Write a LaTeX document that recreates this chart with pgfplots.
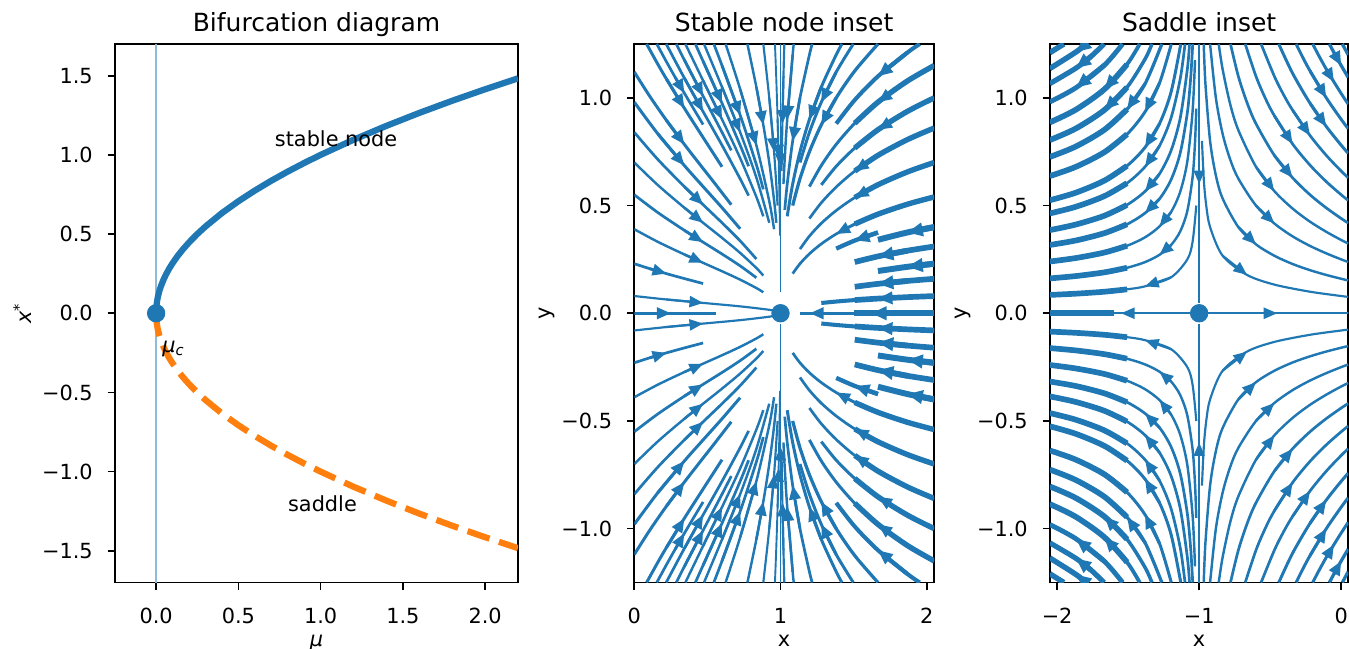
\documentclass[border=0pt]{standalone}
\usepackage{fontspec}
\setmainfont{DejaVu Sans}
\usepackage{pgfplots}
\pgfplotsset{compat=1.18}
\usetikzlibrary{arrows.meta}

\definecolor{c0}{RGB}{31,119,180}
\definecolor{c1}{RGB}{255,127,14}

\pgfplotsset{
  ln/.style={c0, line width=1.3*#1, smooth, line join=round},
  ar/.style={c0, line width=1.3*#1, -{Triangle[length=6pt 0.5, width=4.8pt 0.5]}},
  mplaxis/.style={
    scale only axis, anchor=center,
    axis line style={line width=0.8pt},
    tick align=outside, major tick length=3.5pt,
    every tick/.style={black, line width=0.8pt},
    xtick pos=bottom, ytick pos=left,
    xticklabel style={anchor=base, yshift=-16pt, inner sep=0pt},
    yticklabel style={anchor=east, xshift=-7pt, inner sep=0pt},
    xlabel style={at={([yshift=-30.5pt]axis description cs:0.5,0)}, anchor=base, inner sep=0pt},
    ylabel style={at={([xshift=-40pt]axis description cs:0,0.5)}, anchor=base, inner sep=0pt},
    title style={at={(axis description cs:0.5,1)}, anchor=base, inner sep=0pt,
      font=\fontsize{12}{14.4}\selectfont},
  },
}
% one streamline: width, points in flow order, two points where its arrow sits
\newcommand{\strm}[3]{\addplot[ln=#1] coordinates {#2}; \addplot[ar=#1] coordinates {#3};}
% thicker outer piece of a streamline
\newcommand{\ovl}[2]{\addplot[ln=#1] coordinates {#2};}

\begin{document}
\begin{tikzpicture}
\path[use as bounding box] (0,0) rectangle (647.52pt,311.04pt);

% ---- bifurcation diagram
\begin{axis}[mplaxis, at={(151.92pt,160.68pt)}, width=193.44pt, height=258.48pt,
    xmin=-0.25, xmax=2.2, ymin=-1.7, ymax=1.7,
    xtick={0,0.5,1,1.5,2}, xticklabels={0.0,0.5,1.0,1.5,2.0},
    ytick={-1.5,-1,-0.5,0,0.5,1,1.5},
    yticklabels={−1.5,−1.0,−0.5,0.0,0.5,1.0,1.5},
    title={Bifurcation diagram},
    xlabel={\textit{μ}}, ylabel={\textit{x}\textsuperscript{*}}]
  \addplot[c0!50, line width=1pt] coordinates {(0,-1.7) (0,1.7)};
  \addplot[c0, line width=3pt, line join=round] coordinates {
    (0,0) (0.001,0.0316) (0.003,0.0548) (0.006,0.0775) (0.01,0.1) (0.02,0.1414)
    (0.03,0.1732) (0.045,0.2121) (0.06,0.2449) (0.08,0.2828) (0.1,0.3162) (0.13,0.3606)
    (0.16,0.4) (0.2,0.4472) (0.25,0.5) (0.3,0.5477) (0.4,0.6325) (0.5,0.7071) (0.6,0.7746)
    (0.7,0.8367) (0.8,0.8944) (0.9,0.9487) (1.0,1.0) (1.2,1.0954) (1.4,1.1832) (1.6,1.2649)
    (1.8,1.3416) (2.0,1.4142) (2.2,1.4832)};
  \addplot[c1, line width=3pt, dash pattern=on 11.1pt off 4.8pt] coordinates {
    (0,0) (0.001,-0.0316) (0.003,-0.0548) (0.006,-0.0775) (0.01,-0.1) (0.02,-0.1414)
    (0.03,-0.1732) (0.045,-0.2121) (0.06,-0.2449) (0.08,-0.2828) (0.1,-0.3162) (0.13,-0.3606)
    (0.16,-0.4) (0.2,-0.4472) (0.25,-0.5) (0.3,-0.5477) (0.4,-0.6325) (0.5,-0.7071) (0.6,-0.7746)
    (0.7,-0.8367) (0.8,-0.8944) (0.9,-0.9487) (1.0,-1.0) (1.2,-1.0954) (1.4,-1.1832) (1.6,-1.2649)
    (1.8,-1.3416) (2.0,-1.4142) (2.2,-1.4832)};
  \addplot[c0, only marks, mark=*, mark size=4.2pt, mark options={draw=c0, fill=c0}] coordinates {(0,0)};
  \node[anchor=base west, inner sep=0pt] at (axis cs:0.72,1.05) {stable node};
  \node[anchor=base west, inner sep=0pt] at (axis cs:0.8,-1.25) {saddle};
  \node[anchor=base west, inner sep=0pt] at (axis cs:0.035,-0.245) {\textit{μ}\textsubscript{\textit{c}}};
\end{axis}

% ---- stable node inset
\begin{axis}[mplaxis, at={(376.39pt,160.68pt)}, width=143.86pt, height=258.48pt,
    xmin=0, xmax=2.05, ymin=-1.25, ymax=1.25,
    xtick={0,1,2}, xticklabels={0,1,2},
    ytick={-1,-0.5,0,0.5,1}, yticklabels={−1.0,−0.5,0.0,0.5,1.0},
    title={Stable node inset}, xlabel={x}, ylabel={y}]
  % upper half, left of the node
  \strm{0.8pt}{(0,0.08) (0.2195,0.064) (0.4706,0.048) (0.7241,0.032) (0.9231,0.016) (0.9802,0.008) (0.9968,0.0032)}{(0.2195,0.064) (0.4706,0.048)}
  \strm{1.0pt}{(0,0.23) (0.105,0.207) (0.2195,0.184) (0.3423,0.161) (0.4706,0.138)}{(0.105,0.207) (0.2195,0.184)}
  \strm{0.9pt}{(0,0.39) (0.1611,0.3315) (0.3423,0.273) (0.4706,0.234) (0.6,0.195) (0.7241,0.156) (0.8349,0.117) (0.8824,0.0975)}{(0.3423,0.273) (0.4706,0.234)}
  \strm{1.0pt}{(0,0.55) (0.1611,0.4675) (0.3423,0.385) (0.4706,0.33) (0.6,0.275) (0.7241,0.22) (0.8349,0.165)}{(0.3423,0.385) (0.4706,0.33)}
  \strm{0.9pt}{(0,0.7) (0.1611,0.595) (0.3423,0.49) (0.4706,0.42) (0.6,0.35) (0.7241,0.28) (0.8349,0.21) (0.8824,0.175)}{(0.3423,0.49) (0.4706,0.42)}
  \strm{1.0pt}{(0,0.84) (0.1611,0.714) (0.3423,0.588) (0.4706,0.504) (0.6,0.42) (0.7241,0.336) (0.8349,0.252)}{(0.3423,0.588) (0.4706,0.504)}
  \strm{1.1pt}{(0,0.98) (0.1611,0.833) (0.3423,0.686) (0.4706,0.588) (0.6,0.49) (0.7241,0.392)}{(0.1611,0.833) (0.3423,0.686)}
  \strm{1.1pt}{(0,1.12) (0.105,1.008) (0.2195,0.896) (0.3423,0.784) (0.4706,0.672) (0.5355,0.616) (0.6632,0.504)}{(0.2195,0.896) (0.3423,0.784)}
  \strm{1.1pt}{(0.0843,1.25) (0.1611,1.156) (0.2195,1.088) (0.3423,0.952) (0.4706,0.816) (0.6,0.68)}{(0.2195,1.088) (0.3423,0.952)}
  \strm{1.0pt}{(0.1538,1.25) (0.2195,1.168) (0.28,1.095) (0.3423,1.022) (0.406,0.949) (0.4706,0.876)}{(0.28,1.095) (0.3423,1.022)}
  \strm{1.0pt}{(0.2183,1.25) (0.3423,1.092) (0.4706,0.936) (0.6,0.78) (0.7241,0.624) (0.7817,0.546)}{(0.3423,1.092) (0.4706,0.936)}
  \strm{1.0pt}{(0.2873,1.25) (0.3423,1.176) (0.4706,1.008) (0.6,0.84) (0.6632,0.756)}{(0.3423,1.176) (0.4706,1.008)}
  \strm{0.9pt}{(0.3493,1.25) (0.4706,1.08) (0.6,0.9) (0.7241,0.72) (0.8349,0.54) (0.8824,0.45)}{(0.4706,1.08) (0.6,0.9)}
  \strm{1.0pt}{(0.4175,1.25) (0.4706,1.17) (0.6,0.975) (0.7241,0.78) (0.7817,0.6825)}{(0.4706,1.17) (0.6,0.975)}
  \strm{0.9pt}{(0.4768,1.25) (0.6,1.05) (0.7241,0.84) (0.8349,0.63) (0.9231,0.42)}{(0.6,1.05) (0.7241,0.84)}
  \strm{1.0pt}{(0.5439,1.25) (0.6,1.15) (0.7241,0.92) (0.8349,0.69) (0.8824,0.575)}{(0.6,1.15) (0.7241,0.92)}
  \strm{0.9pt}{(0.6246,1.25) (0.7241,1.04) (0.8349,0.78) (0.9231,0.52) (0.956,0.39)}{(0.7241,1.04) (0.8349,0.78)}
  \strm{0.9pt}{(0.7737,1.25) (0.8349,1.05) (0.8824,0.875) (0.9231,0.7) (0.956,0.525) (0.9716,0.42)}{(0.8349,1.05) (0.8824,0.875)}
  \strm{0.8pt}{(0.8824,1.25) (0.9231,1.0) (0.956,0.75) (0.9802,0.5)}{(0.9231,1.0) (0.956,0.75)}
  \strm{0.7pt}{(0.9621,1.25) (0.9716,1.08) (0.9802,0.9) (0.9873,0.72) (0.9928,0.54) (0.9968,0.36)}{(0.9802,0.9) (0.9873,0.72)}
  \strm{0.7pt}{(1,1.25) (1,0.1)}{(1,0.9) (1,0.68)}
  % upper half, right of the node
  \strm{1.5pt}{(2.0514,0.0798) (1.8674,0.0748) (1.6667,0.068) (1.5078,0.0612) (1.381,0.0544) (1.2792,0.0476)}{(1.8674,0.0748) (1.6667,0.068)}
  \ovl{2.1pt}{(2.0514,0.0798) (1.8674,0.0748) (1.6667,0.068) (1.5078,0.0612)}
  \strm{2.1pt}{(2.0514,0.16) (1.8674,0.15) (1.6667,0.1365) (1.5078,0.1229)}{(1.8674,0.15) (1.6667,0.1365)}
  \strm{2.2pt}{(2.0514,0.23) (1.8674,0.2156) (1.6667,0.196)}{(2.0514,0.23) (1.8674,0.2156)}
  \strm{2.1pt}{(2.0514,0.31) (1.8674,0.2904) (1.6667,0.264) (1.5078,0.2376)}{(1.8674,0.2904) (1.6667,0.264)}
  \strm{2.2pt}{(2.0514,0.4) (1.8674,0.375) (1.6667,0.341)}{(2.0514,0.4) (1.8674,0.375)}
  \strm{1.6pt}{(1.6667,0.375) (1.5078,0.3375) (1.381,0.3)}{(1.6667,0.375) (1.5078,0.3375)}
  \strm{1.0pt}{(2.0514,0.54) (1.8674,0.506) (1.6667,0.46) (1.5078,0.414) (1.381,0.368) (1.2792,0.322) (1.1978,0.276) (1.1333,0.23) (1.0833,0.184)}{(1.5078,0.414) (1.381,0.368)}
  \ovl{2.0pt}{(2.0514,0.54) (1.8674,0.506) (1.6667,0.46) (1.5078,0.414)}
  \strm{1.0pt}{(2.0514,0.7) (1.8674,0.656) (1.6667,0.5965) (1.5078,0.537) (1.381,0.477) (1.2792,0.4176) (1.1978,0.358) (1.1333,0.298)}{(1.6667,0.5965) (1.5078,0.537)}
  \ovl{2.0pt}{(2.0514,0.7) (1.8674,0.656) (1.6667,0.5965) (1.5078,0.537)}
  \strm{1.0pt}{(2.0514,0.86) (1.8674,0.806) (1.6667,0.733) (1.5078,0.66) (1.381,0.586) (1.2792,0.513) (1.1978,0.44)}{(1.6667,0.733) (1.5078,0.66)}
  \ovl{2.0pt}{(2.0514,0.86) (1.8674,0.806) (1.6667,0.733) (1.5078,0.66)}
  \strm{1.1pt}{(2.0514,1.0) (1.8674,0.937) (1.6667,0.852) (1.5078,0.767) (1.381,0.682) (1.2792,0.596)}{(1.8674,0.937) (1.6667,0.852)}
  \ovl{2.0pt}{(2.0514,1.0) (1.8674,0.937) (1.6667,0.852) (1.5078,0.767)}
  \strm{1.1pt}{(2.0514,1.15) (1.8674,1.078) (1.6667,0.98) (1.5078,0.882) (1.381,0.784) (1.2792,0.686) (1.1978,0.588)}{(1.8674,1.078) (1.6667,0.98)}
  \ovl{2.0pt}{(2.0514,1.15) (1.8674,1.078) (1.6667,0.98) (1.5078,0.882)}
  \strm{1.5pt}{(1.9525,1.25) (1.8674,1.21) (1.6667,1.1) (1.5078,0.99) (1.381,0.88)}{(1.8674,1.21) (1.6667,1.1)}
  \strm{1.2pt}{(1.6667,1.25) (1.5078,1.125) (1.381,1.0) (1.2792,0.875) (1.1978,0.75) (1.1333,0.625) (1.0833,0.5)}{(1.381,1.0) (1.2792,0.875)}
  \strm{1.1pt}{(1.4978,1.25) (1.381,1.12) (1.2792,0.98) (1.1978,0.84) (1.1333,0.7)}{(1.381,1.12) (1.2792,0.98)}
  \strm{1.1pt}{(1.4202,1.25) (1.381,1.2) (1.2792,1.05) (1.1978,0.9) (1.1333,0.75) (1.0833,0.6) (1.046,0.45)}{(1.2792,1.05) (1.1978,0.9)}
  \strm{1.0pt}{(1.2165,1.25) (1.1978,1.2) (1.1333,1.0) (1.0833,0.8) (1.046,0.6) (1.0292,0.48)}{(1.1333,1.0) (1.0833,0.8)}
  \strm{0.9pt}{(1.0907,1.25) (1.0833,1.2) (1.046,0.9) (1.0292,0.72) (1.0202,0.6)}{(1.0833,1.2) (1.046,0.9)}
  \strm{0.8pt}{(1.0261,1.25) (1.0202,1.1) (1.0129,0.88) (1.0072,0.66)}{(1.0202,1.1) (1.0129,0.88)}
  % lower half, left of the node
  \strm{0.8pt}{(0,-0.08) (0.2195,-0.064) (0.4706,-0.048) (0.7241,-0.032) (0.9231,-0.016) (0.9802,-0.008) (0.9968,-0.0032)}{(0.2195,-0.064) (0.4706,-0.048)}
  \strm{1.0pt}{(0,-0.23) (0.105,-0.207) (0.2195,-0.184) (0.3423,-0.161) (0.4706,-0.138)}{(0.105,-0.207) (0.2195,-0.184)}
  \strm{0.9pt}{(0,-0.39) (0.1611,-0.3315) (0.3423,-0.273) (0.4706,-0.234) (0.6,-0.195) (0.7241,-0.156) (0.8349,-0.117) (0.8824,-0.0975)}{(0.3423,-0.273) (0.4706,-0.234)}
  \strm{1.0pt}{(0,-0.55) (0.1611,-0.4675) (0.3423,-0.385) (0.4706,-0.33) (0.6,-0.275) (0.7241,-0.22) (0.8349,-0.165)}{(0.3423,-0.385) (0.4706,-0.33)}
  \strm{0.9pt}{(0,-0.7) (0.1611,-0.595) (0.3423,-0.49) (0.4706,-0.42) (0.6,-0.35) (0.7241,-0.28) (0.8349,-0.21) (0.8824,-0.175)}{(0.3423,-0.49) (0.4706,-0.42)}
  \strm{1.0pt}{(0,-0.84) (0.1611,-0.714) (0.3423,-0.588) (0.4706,-0.504) (0.6,-0.42) (0.7241,-0.336) (0.8349,-0.252)}{(0.3423,-0.588) (0.4706,-0.504)}
  \strm{1.1pt}{(0,-0.98) (0.1611,-0.833) (0.3423,-0.686) (0.4706,-0.588) (0.6,-0.49) (0.7241,-0.392)}{(0.1611,-0.833) (0.3423,-0.686)}
  \strm{1.1pt}{(0,-1.12) (0.105,-1.008) (0.2195,-0.896) (0.3423,-0.784) (0.4706,-0.672) (0.5355,-0.616) (0.6632,-0.504)}{(0.2195,-0.896) (0.3423,-0.784)}
  \strm{1.1pt}{(0.0843,-1.25) (0.1611,-1.156) (0.2195,-1.088) (0.3423,-0.952) (0.4706,-0.816) (0.6,-0.68)}{(0.2195,-1.088) (0.3423,-0.952)}
  \strm{1.0pt}{(0.1538,-1.25) (0.2195,-1.168) (0.28,-1.095) (0.3423,-1.022) (0.406,-0.949) (0.4706,-0.876)}{(0.28,-1.095) (0.3423,-1.022)}
  \strm{1.0pt}{(0.2183,-1.25) (0.3423,-1.092) (0.4706,-0.936) (0.6,-0.78) (0.7241,-0.624) (0.7817,-0.546)}{(0.3423,-1.092) (0.4706,-0.936)}
  \strm{1.0pt}{(0.2873,-1.25) (0.3423,-1.176) (0.4706,-1.008) (0.6,-0.84) (0.6632,-0.756)}{(0.3423,-1.176) (0.4706,-1.008)}
  \strm{0.9pt}{(0.3493,-1.25) (0.4706,-1.08) (0.6,-0.9) (0.7241,-0.72) (0.8349,-0.54) (0.8824,-0.45)}{(0.4706,-1.08) (0.6,-0.9)}
  \strm{1.0pt}{(0.4175,-1.25) (0.4706,-1.17) (0.6,-0.975) (0.7241,-0.78) (0.7817,-0.6825)}{(0.4706,-1.17) (0.6,-0.975)}
  \strm{0.9pt}{(0.4768,-1.25) (0.6,-1.05) (0.7241,-0.84) (0.8349,-0.63) (0.9231,-0.42)}{(0.6,-1.05) (0.7241,-0.84)}
  \strm{1.0pt}{(0.5439,-1.25) (0.6,-1.15) (0.7241,-0.92) (0.8349,-0.69) (0.8824,-0.575)}{(0.6,-1.15) (0.7241,-0.92)}
  \strm{0.9pt}{(0.6246,-1.25) (0.7241,-1.04) (0.8349,-0.78) (0.9231,-0.52) (0.956,-0.39)}{(0.7241,-1.04) (0.8349,-0.78)}
  \strm{0.9pt}{(0.7737,-1.25) (0.8349,-1.05) (0.8824,-0.875) (0.9231,-0.7) (0.956,-0.525) (0.9716,-0.42)}{(0.8349,-1.05) (0.8824,-0.875)}
  \strm{0.8pt}{(0.8824,-1.25) (0.9231,-1.0) (0.956,-0.75) (0.9802,-0.5)}{(0.9231,-1.0) (0.956,-0.75)}
  \strm{0.7pt}{(0.9621,-1.25) (0.9716,-1.08) (0.9802,-0.9) (0.9873,-0.72) (0.9928,-0.54) (0.9968,-0.36)}{(0.9802,-0.9) (0.9873,-0.72)}
  \strm{0.7pt}{(1,-1.25) (1,-0.05)}{(1,-0.9) (1,-0.62)}
  % lower half, right of the node
  \strm{1.5pt}{(2.0514,-0.0798) (1.8674,-0.0748) (1.6667,-0.068) (1.5078,-0.0612) (1.381,-0.0544) (1.2792,-0.0476)}{(1.8674,-0.0748) (1.6667,-0.068)}
  \ovl{2.1pt}{(2.0514,-0.0798) (1.8674,-0.0748) (1.6667,-0.068) (1.5078,-0.0612)}
  \strm{2.1pt}{(2.0514,-0.16) (1.8674,-0.15) (1.6667,-0.1365) (1.5078,-0.1229)}{(1.8674,-0.15) (1.6667,-0.1365)}
  \strm{2.2pt}{(2.0514,-0.23) (1.8674,-0.2156) (1.6667,-0.196)}{(2.0514,-0.23) (1.8674,-0.2156)}
  \strm{2.1pt}{(2.0514,-0.31) (1.8674,-0.2904) (1.6667,-0.264) (1.5078,-0.2376)}{(1.8674,-0.2904) (1.6667,-0.264)}
  \strm{2.2pt}{(2.0514,-0.4) (1.8674,-0.375) (1.6667,-0.341)}{(2.0514,-0.4) (1.8674,-0.375)}
  \strm{1.6pt}{(1.6667,-0.375) (1.5078,-0.3375) (1.381,-0.3)}{(1.6667,-0.375) (1.5078,-0.3375)}
  \strm{1.0pt}{(2.0514,-0.54) (1.8674,-0.506) (1.6667,-0.46) (1.5078,-0.414) (1.381,-0.368) (1.2792,-0.322) (1.1978,-0.276) (1.1333,-0.23) (1.0833,-0.184)}{(1.5078,-0.414) (1.381,-0.368)}
  \ovl{2.0pt}{(2.0514,-0.54) (1.8674,-0.506) (1.6667,-0.46) (1.5078,-0.414)}
  \strm{1.0pt}{(2.0514,-0.7) (1.8674,-0.656) (1.6667,-0.5965) (1.5078,-0.537) (1.381,-0.477) (1.2792,-0.4176) (1.1978,-0.358) (1.1333,-0.298)}{(1.6667,-0.5965) (1.5078,-0.537)}
  \ovl{2.0pt}{(2.0514,-0.7) (1.8674,-0.656) (1.6667,-0.5965) (1.5078,-0.537)}
  \strm{1.0pt}{(2.0514,-0.86) (1.8674,-0.806) (1.6667,-0.733) (1.5078,-0.66) (1.381,-0.586) (1.2792,-0.513) (1.1978,-0.44)}{(1.6667,-0.733) (1.5078,-0.66)}
  \ovl{2.0pt}{(2.0514,-0.86) (1.8674,-0.806) (1.6667,-0.733) (1.5078,-0.66)}
  \strm{1.1pt}{(2.0514,-1.0) (1.8674,-0.937) (1.6667,-0.852) (1.5078,-0.767) (1.381,-0.682) (1.2792,-0.596)}{(1.8674,-0.937) (1.6667,-0.852)}
  \ovl{2.0pt}{(2.0514,-1.0) (1.8674,-0.937) (1.6667,-0.852) (1.5078,-0.767)}
  \strm{1.1pt}{(2.0514,-1.15) (1.8674,-1.078) (1.6667,-0.98) (1.5078,-0.882) (1.381,-0.784) (1.2792,-0.686) (1.1978,-0.588)}{(1.8674,-1.078) (1.6667,-0.98)}
  \ovl{2.0pt}{(2.0514,-1.15) (1.8674,-1.078) (1.6667,-0.98) (1.5078,-0.882)}
  \strm{1.5pt}{(1.9525,-1.25) (1.8674,-1.21) (1.6667,-1.1) (1.5078,-0.99) (1.381,-0.88)}{(1.8674,-1.21) (1.6667,-1.1)}
  \strm{1.2pt}{(1.6667,-1.25) (1.5078,-1.125) (1.381,-1.0) (1.2792,-0.875) (1.1978,-0.75) (1.1333,-0.625) (1.0833,-0.5)}{(1.381,-1.0) (1.2792,-0.875)}
  \strm{1.1pt}{(1.4978,-1.25) (1.381,-1.12) (1.2792,-0.98) (1.1978,-0.84) (1.1333,-0.7)}{(1.381,-1.12) (1.2792,-0.98)}
  \strm{1.1pt}{(1.4202,-1.25) (1.381,-1.2) (1.2792,-1.05) (1.1978,-0.9) (1.1333,-0.75) (1.0833,-0.6) (1.046,-0.45)}{(1.2792,-1.05) (1.1978,-0.9)}
  \strm{1.0pt}{(1.2165,-1.25) (1.1978,-1.2) (1.1333,-1.0) (1.0833,-0.8) (1.046,-0.6) (1.0292,-0.48)}{(1.1333,-1.0) (1.0833,-0.8)}
  \strm{0.9pt}{(1.0907,-1.25) (1.0833,-1.2) (1.046,-0.9) (1.0292,-0.72) (1.0202,-0.6)}{(1.0833,-1.2) (1.046,-0.9)}
  \strm{0.8pt}{(1.0261,-1.25) (1.0202,-1.1) (1.0129,-0.88) (1.0072,-0.66)}{(1.0202,-1.1) (1.0129,-0.88)}
  % the line y = 0
  \strm{1.0pt}{(0,0) (0.56,0)}{(0.1,0) (0.25,0)}
  \strm{1.1pt}{(2.0514,0) (1.13,0)}{(1.3,0) (1.2,0)}
  \ovl{2.2pt}{(2.0514,0) (1.5,0)}
  \addplot[ar=2.2pt] coordinates {(1.8,0) (1.62,0)};
  \addplot[c0, only marks, mark=*, mark size=4.2pt, mark options={draw=c0, fill=c0}] coordinates {(1,0)};
\end{axis}

% ---- saddle inset
\begin{axis}[mplaxis, at={(575.59pt,160.68pt)}, width=143.18pt, height=258.48pt,
    xmin=-2.05, xmax=0.05, ymin=-1.25, ymax=1.25,
    xtick={-2,-1,0}, xticklabels={−2,−1,0},
    ytick={-1,-0.5,0,0.5,1}, yticklabels={−1.0,−0.5,0.0,0.5,1.0},
    title={Saddle inset}, xlabel={x}, ylabel={y}]
  % upper half, left of the saddle
  \strm{0.8pt}{(-1.0202,0.5) (-1.046,0.333) (-1.0833,0.25) (-1.1978,0.1667) (-1.381,0.125) (-1.5078,0.1111) (-1.6667,0.1) (-1.8674,0.0909) (-2.0514,0.0852)}{(-1.1978,0.1667) (-1.381,0.125)}
  \ovl{2.1pt}{(-1.5078,0.1111) (-1.6667,0.1) (-1.8674,0.0909) (-2.0514,0.0852)}
  \strm{0.9pt}{(-1.0202,0.95) (-1.0292,0.792) (-1.046,0.633) (-1.0833,0.475) (-1.1333,0.38) (-1.1978,0.3167) (-1.2792,0.2714) (-1.381,0.2375) (-1.5078,0.2111) (-1.6667,0.19) (-1.8674,0.1727) (-2.0514,0.1618)}{(-1.1978,0.3167) (-1.2792,0.2714)}
  \ovl{2.1pt}{(-1.5078,0.2111) (-1.6667,0.19) (-1.8674,0.1727) (-2.0514,0.1618)}
  \strm{0.9pt}{(-1.0292,1.175) (-1.046,0.94) (-1.0833,0.705) (-1.1333,0.564) (-1.1978,0.47) (-1.2792,0.403) (-1.381,0.3525) (-1.5078,0.3133) (-1.6667,0.282) (-1.8674,0.2564) (-2.0514,0.2402)}{(-1.1978,0.47) (-1.2792,0.403)}
  \ovl{2.1pt}{(-1.5078,0.3133) (-1.6667,0.282) (-1.8674,0.2564) (-2.0514,0.2402)}
  \strm{1.0pt}{(-1.0453,1.25) (-1.0595,1.094) (-1.0833,0.93) (-1.1333,0.744) (-1.1978,0.62) (-1.2792,0.531) (-1.381,0.465) (-1.5078,0.413) (-1.6667,0.372) (-1.8674,0.338) (-2.0514,0.317)}{(-1.2792,0.531) (-1.381,0.465)}
  \ovl{2.1pt}{(-1.5078,0.413) (-1.6667,0.372) (-1.8674,0.338) (-2.0514,0.317)}
  \strm{1.0pt}{(-1.0679,1.25) (-1.0833,1.1325) (-1.1333,0.906) (-1.1978,0.755) (-1.2792,0.647) (-1.381,0.566) (-1.5078,0.503) (-1.6667,0.453) (-1.8674,0.412) (-2.0514,0.386)}{(-1.2792,0.647) (-1.381,0.566)}
  \ovl{2.1pt}{(-1.5078,0.503) (-1.6667,0.453) (-1.8674,0.412) (-2.0514,0.386)}
  \strm{1.0pt}{(-1.0994,1.25) (-1.1333,1.088) (-1.1978,0.907) (-1.2792,0.777) (-1.381,0.68) (-1.5078,0.604) (-1.6667,0.544) (-1.8674,0.4945) (-2.0514,0.4634)}{(-1.2792,0.777) (-1.381,0.68)}
  \ovl{2.1pt}{(-1.5078,0.604) (-1.6667,0.544) (-1.8674,0.4945) (-2.0514,0.4634)}
  \strm{1.1pt}{(-1.1293,1.25) (-1.1978,1.0267) (-1.2792,0.88) (-1.381,0.77) (-1.5078,0.6844) (-1.6667,0.616) (-1.8674,0.56) (-2.0514,0.5247)}{(-1.2792,0.88) (-1.381,0.77)}
  \ovl{2.1pt}{(-1.5078,0.6844) (-1.6667,0.616) (-1.8674,0.56) (-2.0514,0.5247)}
  \strm{1.1pt}{(-1.196,1.25) (-1.2792,1.0686) (-1.381,0.935) (-1.5078,0.831) (-1.6667,0.748) (-1.8674,0.68) (-2.0514,0.637)}{(-1.2792,1.0686) (-1.381,0.935)}
  \ovl{2.1pt}{(-1.5078,0.831) (-1.6667,0.748) (-1.8674,0.68) (-2.0514,0.637)}
  \strm{1.2pt}{(-1.2628,1.25) (-1.381,1.065) (-1.5078,0.9467) (-1.6667,0.852) (-1.8674,0.7745) (-2.0514,0.7257)}{(-1.381,1.065) (-1.5078,0.9467)}
  \ovl{2.1pt}{(-1.5078,0.9467) (-1.6667,0.852) (-1.8674,0.7745) (-2.0514,0.7257)}
  \strm{1.3pt}{(-1.3326,1.25) (-1.381,1.18) (-1.5078,1.049) (-1.6667,0.944) (-1.8674,0.858) (-2.0514,0.804)}{(-1.5078,1.049) (-1.6667,0.944)}
  \ovl{2.1pt}{(-1.5078,1.049) (-1.6667,0.944) (-1.8674,0.858) (-2.0514,0.804)}
  \strm{1.4pt}{(-1.4186,1.25) (-1.5078,1.1556) (-1.6667,1.04) (-1.8674,0.9455) (-2.0514,0.8859)}{(-1.5078,1.1556) (-1.6667,1.04)}
  \ovl{2.1pt}{(-1.5078,1.1556) (-1.6667,1.04) (-1.8674,0.9455) (-2.0514,0.8859)}
  \strm{1.8pt}{(-1.5392,1.25) (-1.6667,1.152) (-1.8674,1.047) (-2.0514,0.981)}{(-1.6667,1.152) (-1.8674,1.047)}
  \strm{1.9pt}{(-1.6699,1.25) (-1.761,1.1924) (-1.8674,1.138) (-2.0514,1.066)}{(-1.761,1.1924) (-1.8674,1.138)}
  \strm{2.0pt}{(-1.7962,1.25) (-1.8674,1.2127) (-2.0514,1.136)}{(-1.7962,1.25) (-1.8674,1.2127)}
  \ovl{2.0pt}{(-1.9525,1.25) (-2.0514,1.2095)}
  % upper half, right of the saddle
  \strm{0.8pt}{(-0.9802,0.8) (-0.9668,0.615) (-0.9501,0.5) (-0.9231,0.4) (-0.8349,0.267) (-0.6632,0.178) (-0.4706,0.133) (-0.2195,0.1) (0,0.08) (0.0488,0.0762)}{(-0.8349,0.267) (-0.6632,0.178)}
  \strm{0.9pt}{(-0.9678,1.25) (-0.956,1.067) (-0.9231,0.8) (-0.8824,0.64) (-0.8349,0.533) (-0.7241,0.4) (-0.6,0.32) (-0.4706,0.267) (-0.3423,0.2286) (-0.2195,0.2) (-0.105,0.1778) (0,0.16) (0.0488,0.1524)}{(-0.7241,0.4) (-0.6,0.32)}
  \strm{0.9pt}{(-0.9231,1.25) (-0.8824,1.0) (-0.8349,0.833) (-0.7817,0.714) (-0.7241,0.625) (-0.6,0.5) (-0.4706,0.4167) (-0.3423,0.357) (-0.2195,0.3125) (-0.105,0.278) (0,0.25) (0.0488,0.238)}{(-0.6,0.5) (-0.4706,0.4167)}
  \strm{0.9pt}{(-0.8622,1.25) (-0.8349,1.133) (-0.7817,0.971) (-0.7241,0.85) (-0.6,0.68) (-0.4706,0.567) (-0.3423,0.486) (-0.2195,0.425) (-0.105,0.378) (0,0.34) (0.0488,0.324)}{(-0.6,0.68) (-0.4706,0.567)}
  \strm{1.0pt}{(-0.7795,1.25) (-0.7241,1.1) (-0.6632,0.978) (-0.6,0.88) (-0.4706,0.733) (-0.3423,0.629) (-0.2195,0.55) (-0.105,0.489) (0,0.44) (0.0488,0.419)}{(-0.4706,0.733) (-0.3423,0.629)}
  \strm{1.0pt}{(-0.6756,1.25) (-0.6,1.1) (-0.5355,1.0) (-0.4706,0.917) (-0.3423,0.786) (-0.2195,0.6875) (-0.105,0.611) (0,0.55) (0.0488,0.524)}{(-0.4706,0.917) (-0.3423,0.786)}
  \strm{1.0pt}{(-0.564,1.25) (-0.4706,1.1) (-0.406,1.015) (-0.3423,0.943) (-0.2195,0.825) (-0.105,0.733) (0,0.66) (0.0488,0.629)}{(-0.3423,0.943) (-0.2195,0.825)}
  \strm{1.1pt}{(-0.4395,1.25) (-0.3423,1.114) (-0.2195,0.975) (-0.105,0.867) (0,0.78) (0.0488,0.743)}{(-0.2195,0.975) (-0.105,0.867)}
  \strm{1.1pt}{(-0.3172,1.25) (-0.28,1.2) (-0.2195,1.125) (-0.105,1.0) (0,0.9) (0.0488,0.857)}{(-0.2195,1.125) (-0.105,1.0)}
  \strm{1.1pt}{(-0.2006,1.25) (-0.1611,1.2) (-0.105,1.133) (-0.0512,1.074) (0,1.02) (0.0488,0.971)}{(-0.105,1.133) (-0.0512,1.074)}
  \strm{1.2pt}{(-0.0832,1.25) (-0.0512,1.2105) (0,1.15) (0.0488,1.095)}{(-0.0512,1.2105) (0,1.15)}
  \ovl{1.2pt}{(0.0079,1.25) (0.0488,1.2)}
  \strm{0.7pt}{(-1,1.25) (-1,0.05)}{(-1,0.8) (-1,0.6)}
  % lower half, left of the saddle
  \strm{0.8pt}{(-1.0202,-0.5) (-1.046,-0.333) (-1.0833,-0.25) (-1.1978,-0.1667) (-1.381,-0.125) (-1.5078,-0.1111) (-1.6667,-0.1) (-1.8674,-0.0909) (-2.0514,-0.0852)}{(-1.1978,-0.1667) (-1.381,-0.125)}
  \ovl{2.1pt}{(-1.5078,-0.1111) (-1.6667,-0.1) (-1.8674,-0.0909) (-2.0514,-0.0852)}
  \strm{0.9pt}{(-1.0202,-0.95) (-1.0292,-0.792) (-1.046,-0.633) (-1.0833,-0.475) (-1.1333,-0.38) (-1.1978,-0.3167) (-1.2792,-0.2714) (-1.381,-0.2375) (-1.5078,-0.2111) (-1.6667,-0.19) (-1.8674,-0.1727) (-2.0514,-0.1618)}{(-1.1978,-0.3167) (-1.2792,-0.2714)}
  \ovl{2.1pt}{(-1.5078,-0.2111) (-1.6667,-0.19) (-1.8674,-0.1727) (-2.0514,-0.1618)}
  \strm{0.9pt}{(-1.0292,-1.175) (-1.046,-0.94) (-1.0833,-0.705) (-1.1333,-0.564) (-1.1978,-0.47) (-1.2792,-0.403) (-1.381,-0.3525) (-1.5078,-0.3133) (-1.6667,-0.282) (-1.8674,-0.2564) (-2.0514,-0.2402)}{(-1.1978,-0.47) (-1.2792,-0.403)}
  \ovl{2.1pt}{(-1.5078,-0.3133) (-1.6667,-0.282) (-1.8674,-0.2564) (-2.0514,-0.2402)}
  \strm{1.0pt}{(-1.0453,-1.25) (-1.0595,-1.094) (-1.0833,-0.93) (-1.1333,-0.744) (-1.1978,-0.62) (-1.2792,-0.531) (-1.381,-0.465) (-1.5078,-0.413) (-1.6667,-0.372) (-1.8674,-0.338) (-2.0514,-0.317)}{(-1.2792,-0.531) (-1.381,-0.465)}
  \ovl{2.1pt}{(-1.5078,-0.413) (-1.6667,-0.372) (-1.8674,-0.338) (-2.0514,-0.317)}
  \strm{1.0pt}{(-1.0679,-1.25) (-1.0833,-1.1325) (-1.1333,-0.906) (-1.1978,-0.755) (-1.2792,-0.647) (-1.381,-0.566) (-1.5078,-0.503) (-1.6667,-0.453) (-1.8674,-0.412) (-2.0514,-0.386)}{(-1.2792,-0.647) (-1.381,-0.566)}
  \ovl{2.1pt}{(-1.5078,-0.503) (-1.6667,-0.453) (-1.8674,-0.412) (-2.0514,-0.386)}
  \strm{1.0pt}{(-1.0994,-1.25) (-1.1333,-1.088) (-1.1978,-0.907) (-1.2792,-0.777) (-1.381,-0.68) (-1.5078,-0.604) (-1.6667,-0.544) (-1.8674,-0.4945) (-2.0514,-0.4634)}{(-1.2792,-0.777) (-1.381,-0.68)}
  \ovl{2.1pt}{(-1.5078,-0.604) (-1.6667,-0.544) (-1.8674,-0.4945) (-2.0514,-0.4634)}
  \strm{1.1pt}{(-1.1293,-1.25) (-1.1978,-1.0267) (-1.2792,-0.88) (-1.381,-0.77) (-1.5078,-0.6844) (-1.6667,-0.616) (-1.8674,-0.56) (-2.0514,-0.5247)}{(-1.2792,-0.88) (-1.381,-0.77)}
  \ovl{2.1pt}{(-1.5078,-0.6844) (-1.6667,-0.616) (-1.8674,-0.56) (-2.0514,-0.5247)}
  \strm{1.1pt}{(-1.196,-1.25) (-1.2792,-1.0686) (-1.381,-0.935) (-1.5078,-0.831) (-1.6667,-0.748) (-1.8674,-0.68) (-2.0514,-0.637)}{(-1.2792,-1.0686) (-1.381,-0.935)}
  \ovl{2.1pt}{(-1.5078,-0.831) (-1.6667,-0.748) (-1.8674,-0.68) (-2.0514,-0.637)}
  \strm{1.2pt}{(-1.2628,-1.25) (-1.381,-1.065) (-1.5078,-0.9467) (-1.6667,-0.852) (-1.8674,-0.7745) (-2.0514,-0.7257)}{(-1.381,-1.065) (-1.5078,-0.9467)}
  \ovl{2.1pt}{(-1.5078,-0.9467) (-1.6667,-0.852) (-1.8674,-0.7745) (-2.0514,-0.7257)}
  \strm{1.3pt}{(-1.3326,-1.25) (-1.381,-1.18) (-1.5078,-1.049) (-1.6667,-0.944) (-1.8674,-0.858) (-2.0514,-0.804)}{(-1.5078,-1.049) (-1.6667,-0.944)}
  \ovl{2.1pt}{(-1.5078,-1.049) (-1.6667,-0.944) (-1.8674,-0.858) (-2.0514,-0.804)}
  \strm{1.4pt}{(-1.4186,-1.25) (-1.5078,-1.1556) (-1.6667,-1.04) (-1.8674,-0.9455) (-2.0514,-0.8859)}{(-1.5078,-1.1556) (-1.6667,-1.04)}
  \ovl{2.1pt}{(-1.5078,-1.1556) (-1.6667,-1.04) (-1.8674,-0.9455) (-2.0514,-0.8859)}
  \strm{1.8pt}{(-1.5392,-1.25) (-1.6667,-1.152) (-1.8674,-1.047) (-2.0514,-0.981)}{(-1.6667,-1.152) (-1.8674,-1.047)}
  \strm{1.9pt}{(-1.6699,-1.25) (-1.761,-1.1924) (-1.8674,-1.138) (-2.0514,-1.066)}{(-1.761,-1.1924) (-1.8674,-1.138)}
  \strm{2.0pt}{(-1.7962,-1.25) (-1.8674,-1.2127) (-2.0514,-1.136)}{(-1.7962,-1.25) (-1.8674,-1.2127)}
  \ovl{2.0pt}{(-1.9525,-1.25) (-2.0514,-1.2095)}
  % lower half, right of the saddle
  \strm{0.8pt}{(-0.9802,-0.8) (-0.9668,-0.615) (-0.9501,-0.5) (-0.9231,-0.4) (-0.8349,-0.267) (-0.6632,-0.178) (-0.4706,-0.133) (-0.2195,-0.1) (0,-0.08) (0.0488,-0.0762)}{(-0.8349,-0.267) (-0.6632,-0.178)}
  \strm{0.9pt}{(-0.9678,-1.25) (-0.956,-1.067) (-0.9231,-0.8) (-0.8824,-0.64) (-0.8349,-0.533) (-0.7241,-0.4) (-0.6,-0.32) (-0.4706,-0.267) (-0.3423,-0.2286) (-0.2195,-0.2) (-0.105,-0.1778) (0,-0.16) (0.0488,-0.1524)}{(-0.7241,-0.4) (-0.6,-0.32)}
  \strm{0.9pt}{(-0.9231,-1.25) (-0.8824,-1.0) (-0.8349,-0.833) (-0.7817,-0.714) (-0.7241,-0.625) (-0.6,-0.5) (-0.4706,-0.4167) (-0.3423,-0.357) (-0.2195,-0.3125) (-0.105,-0.278) (0,-0.25) (0.0488,-0.238)}{(-0.6,-0.5) (-0.4706,-0.4167)}
  \strm{0.9pt}{(-0.8622,-1.25) (-0.8349,-1.133) (-0.7817,-0.971) (-0.7241,-0.85) (-0.6,-0.68) (-0.4706,-0.567) (-0.3423,-0.486) (-0.2195,-0.425) (-0.105,-0.378) (0,-0.34) (0.0488,-0.324)}{(-0.6,-0.68) (-0.4706,-0.567)}
  \strm{1.0pt}{(-0.7795,-1.25) (-0.7241,-1.1) (-0.6632,-0.978) (-0.6,-0.88) (-0.4706,-0.733) (-0.3423,-0.629) (-0.2195,-0.55) (-0.105,-0.489) (0,-0.44) (0.0488,-0.419)}{(-0.4706,-0.733) (-0.3423,-0.629)}
  \strm{1.0pt}{(-0.6756,-1.25) (-0.6,-1.1) (-0.5355,-1.0) (-0.4706,-0.917) (-0.3423,-0.786) (-0.2195,-0.6875) (-0.105,-0.611) (0,-0.55) (0.0488,-0.524)}{(-0.4706,-0.917) (-0.3423,-0.786)}
  \strm{1.0pt}{(-0.564,-1.25) (-0.4706,-1.1) (-0.406,-1.015) (-0.3423,-0.943) (-0.2195,-0.825) (-0.105,-0.733) (0,-0.66) (0.0488,-0.629)}{(-0.3423,-0.943) (-0.2195,-0.825)}
  \strm{1.1pt}{(-0.4395,-1.25) (-0.3423,-1.114) (-0.2195,-0.975) (-0.105,-0.867) (0,-0.78) (0.0488,-0.743)}{(-0.2195,-0.975) (-0.105,-0.867)}
  \strm{1.1pt}{(-0.3172,-1.25) (-0.28,-1.2) (-0.2195,-1.125) (-0.105,-1.0) (0,-0.9) (0.0488,-0.857)}{(-0.2195,-1.125) (-0.105,-1.0)}
  \strm{1.1pt}{(-0.2006,-1.25) (-0.1611,-1.2) (-0.105,-1.133) (-0.0512,-1.074) (0,-1.02) (0.0488,-0.971)}{(-0.105,-1.133) (-0.0512,-1.074)}
  \strm{1.2pt}{(-0.0832,-1.25) (-0.0512,-1.2105) (0,-1.15) (0.0488,-1.095)}{(-0.0512,-1.2105) (0,-1.15)}
  \ovl{1.2pt}{(0.0079,-1.25) (0.0488,-1.2)}
  \strm{0.7pt}{(-1,-1.25) (-1,-0.05)}{(-1,-0.8) (-1,-0.6)}
  % the line y = 0
  \strm{0.8pt}{(-1.04,0) (-2.0514,0)}{(-1.4,0) (-1.55,0)}
  \ovl{2.2pt}{(-1.6,0) (-2.0514,0)}
  \strm{0.8pt}{(-0.96,0) (0.0514,0)}{(-0.6,0) (-0.45,0)}
  \addplot[c0, only marks, mark=*, mark size=4.2pt, mark options={draw=c0, fill=c0}] coordinates {(-1,0)};
\end{axis}
\end{tikzpicture}
\end{document}
